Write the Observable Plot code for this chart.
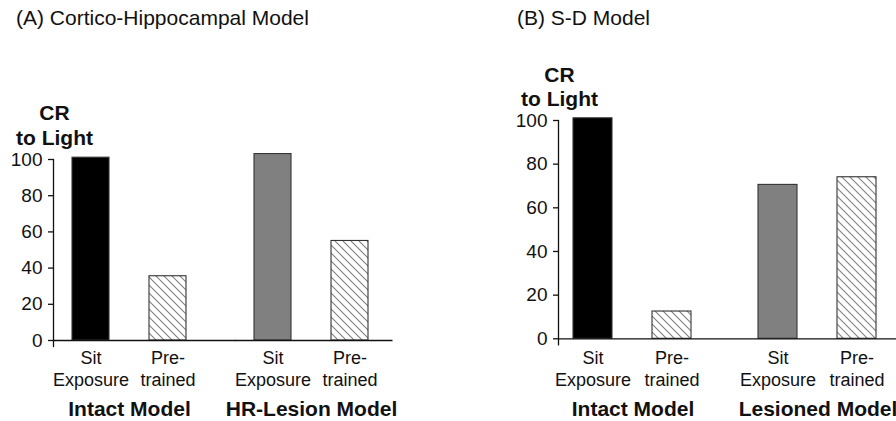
<!DOCTYPE html>
<html><head><meta charset="utf-8">
<script src="https://cdn.jsdelivr.net/npm/d3@7"></script>
<script src="https://cdn.jsdelivr.net/npm/@observablehq/plot@0.6"></script>
<style>
body{margin:0;background:#fff;font-family:"Liberation Sans",Arial,Helvetica,sans-serif;}
#wrap{position:relative;width:896px;height:421px;display:flex;overflow:hidden;}
.panel{width:448px;height:421px;display:flex;flex-direction:column;}
.title{height:32px;box-sizing:border-box;padding-top:7px;font-size:21px;line-height:21px;color:#111;white-space:nowrap;}
</style></head><body>
<svg width="0" height="0" style="position:absolute"><defs>
<pattern id="hatch" patternUnits="userSpaceOnUse" width="8" height="8">
<rect width="8" height="8" fill="#fff"/>
<path d="M0,0L8,8M-1,7L1,9M7,-1L9,1" stroke="#808080" stroke-width="1.1"/>
</pattern></defs></svg>
<div id="wrap">
 <div class="panel" id="pa"><div class="title" style="padding-left:16px">(A) Cortico-Hippocampal Model</div></div>
 <div class="panel" id="pb"><div class="title" style="padding-left:69px">(B) S-D Model</div></div>
</div>
<script>
const conditions = ["Sit Exposure", "Pre-trained"];
const conditionLabels = ["Sit\nExposure", "Pre-\ntrained"];
const groupsA = ["Intact Model", "HR-Lesion Model"];
const valuesA = [101, 35.5, 103, 55];
const groupsB = ["Intact Model", "Lesioned Model"];
const valuesB = [101, 12.5, 70.5, 74];
const yTicks = [0, 20, 40, 60, 80, 100];
const yLabel = "CR\nto Light";

function panel(groups, values, o) {
  const rows = [];
  groups.forEach((g, gi) => conditions.forEach((c, ci) => rows.push({
    group: g, cond: c, value: values[gi * 2 + ci],
    kind: ci === 1 ? "pre" : gi === 0 ? "intact" : "lesion"
  })));
  const axisStroke = {stroke: "#111", strokeWidth: 1.3};
  return Plot.plot({
    width: 448, height: 389,
    marginTop: o.mt, marginBottom: o.mb, marginLeft: o.ml, marginRight: o.mr,
    style: {fontFamily: "Liberation Sans, Arial, sans-serif", color: "#111", background: "transparent", overflow: "visible"},
    fx: {domain: groups, paddingInner: o.fxPad, paddingOuter: 0, axis: null},
    x: {domain: conditions, paddingInner: o.xIn, paddingOuter: o.xOut, axis: null},
    y: {domain: [0, 100], axis: null},
    color: {domain: ["intact", "lesion", "pre"], range: ["#000", "#808080", "url(#hatch)"]},
    marks: [
      Plot.barY(rows, {fx: "group", x: "cond", y: "value", fill: "kind", stroke: "#333", strokeWidth: 1.1}),
      Plot.ruleY([groups[0]], {fx: d => d, y: 0, insetRight: -o.gap, ...axisStroke}),
      Plot.ruleY([groups[1]], {fx: d => d, y: 0, insetRight: -o.end, ...axisStroke}),
      Plot.frame({anchor: "left", facetAnchor: "left", insetBottom: -6, ...axisStroke}),
      Plot.axisY({ticks: yTicks, tickSize: 5, tickPadding: 6, fontSize: 19, label: null, ...axisStroke}),
      Plot.text(rows, {fx: "group", x: "cond", text: d => conditionLabels[conditions.indexOf(d.cond)],
        frameAnchor: "bottom", lineAnchor: "bottom", dy: o.catDy, lineHeight: 1.22, fontSize: 18, fill: "#111"}),
      Plot.text(groups, {fx: d => d, text: d => d, frameAnchor: "bottom", lineAnchor: "bottom",
        dy: o.grpDy, fontSize: 21, fontWeight: "bold", fill: "#111"}),
      Plot.text([groups[0]], {fx: d => d, text: () => yLabel, frameAnchor: "top-left", textAnchor: "middle",
        lineAnchor: "bottom", dy: -15, dx: 1, fontSize: 21, fontWeight: "bold", lineHeight: o.lh, fill: "#111"})
    ]
  });
}

document.getElementById("pa").appendChild(panel(groupsA, valuesA, {
  mt: 127, mb: 81, ml: 53, mr: 60.5, fxPad: 0.167, xIn: 0.513, xOut: 0.231,
  gap: 30.5, end: 5.5, catDy: 45, grpDy: 75, lh: 1.19
}));
document.getElementById("pb").appendChild(panel(groupsB, valuesB, {
  mt: 88, mb: 82.7, ml: 110, mr: 4, fxPad: 0.1946, xIn: 0.506, xOut: 0.196,
  gap: 36, end: 4, catDy: 46.7, grpDy: 76.7, lh: 1.1
}));
</script>
</body></html>
